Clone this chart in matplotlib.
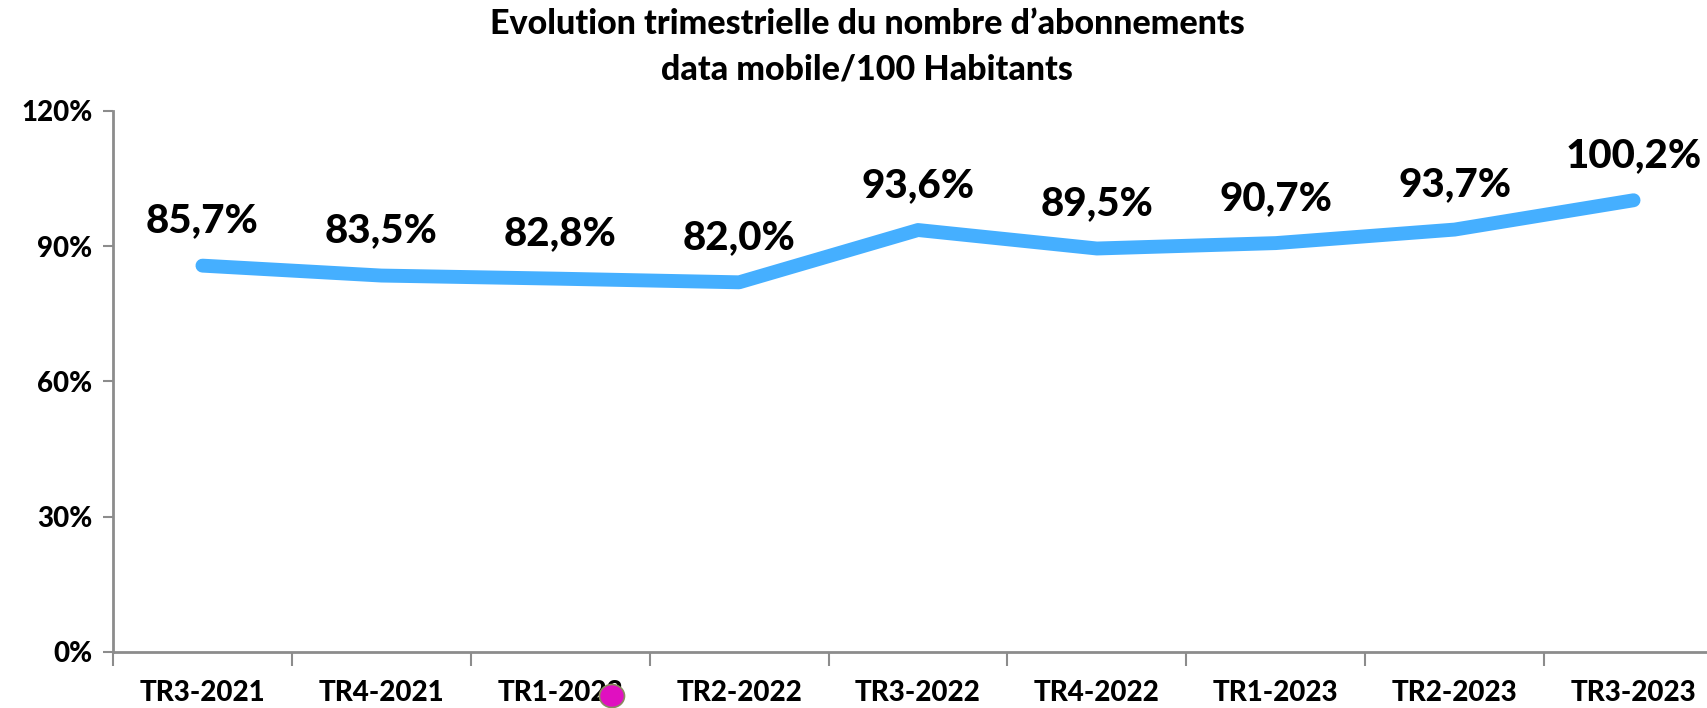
import matplotlib
matplotlib.use("Agg")
import matplotlib.pyplot as plt
from matplotlib.patches import Ellipse

plt.rcParams['font.family'] = ['Lato', 'DejaVu Sans']

quarters = ["TR3-2021", "TR4-2021", "TR1-2022", "TR2-2022", "TR3-2022",
            "TR4-2022", "TR1-2023", "TR2-2023", "TR3-2023"]
rates = [85.7, 83.5, 82.8, 82.0, 93.6, 89.5, 90.7, 93.7, 100.2]
y_ticks = [0, 30, 60, 90, 120]

title = "Evolution trimestrielle du nombre d\u2019abonnements\ndata mobile/100 Habitants"

W, H = 1708, 708
fig = plt.figure(figsize=(W / 100, H / 100), dpi=100)
# plot area runs past the right edge of the figure
ax = fig.add_axes([113 / W, 1 - 652 / H, (1723 - 113) / W, (652 - 111) / H])

x = list(range(len(quarters)))
ax.plot(x, rates, color="#45AFFF", lw=10, solid_capstyle="round",
        solid_joinstyle="round", zorder=3)

for xi, v in zip(x, rates):
    ax.annotate(f"{v:.1f}%".replace(".", ","), (xi, v), xytext=(0, 24),
                textcoords="offset points", ha="center", va="baseline",
                fontsize=29, fontweight="black", color="black")

ax.set_xlim(-0.5, len(quarters) - 0.5)
ax.set_ylim(0, 120)

ax.set_yticks(y_ticks)
ax.set_yticklabels([f"{t}%" for t in y_ticks])

# boundaries carry the tick marks, category centres carry the labels
ax.set_xticks([i - 0.5 for i in range(len(quarters) + 1)])
ax.set_xticklabels([])
ax.set_xticks(x, minor=True)
ax.set_xticklabels(quarters, minor=True)
ax.tick_params(axis="x", which="minor", length=0, pad=20, labelsize=20)
ax.tick_params(axis="x", which="major", length=10, width=1.5, color="#8c8c8c")
ax.tick_params(axis="y", length=7, width=1.5, color="#8c8c8c", pad=8, labelsize=20)
for lab in ax.get_xticklabels(minor=True) + ax.get_yticklabels():
    lab.set_fontweight("black")

for side in ("top", "right"):
    ax.spines[side].set_visible(False)
for side in ("left", "bottom"):
    ax.spines[side].set_color("#8c8c8c")
    ax.spines[side].set_linewidth(2)

fig.text(867 / W, 1 - 47 / H, title, ha="center", va="center",
         fontsize=24.5, fontweight="black", linespacing=1.5)

# small magenta marker sitting over the third category label
fig.add_artist(Ellipse((612 / W, 1 - 696 / H), 25 / W, 23 / H,
                       transform=fig.transFigure, facecolor="#E010C0",
                       edgecolor="#8a8a60", lw=1.2, zorder=10))

fig.savefig("out.png", dpi=100)
